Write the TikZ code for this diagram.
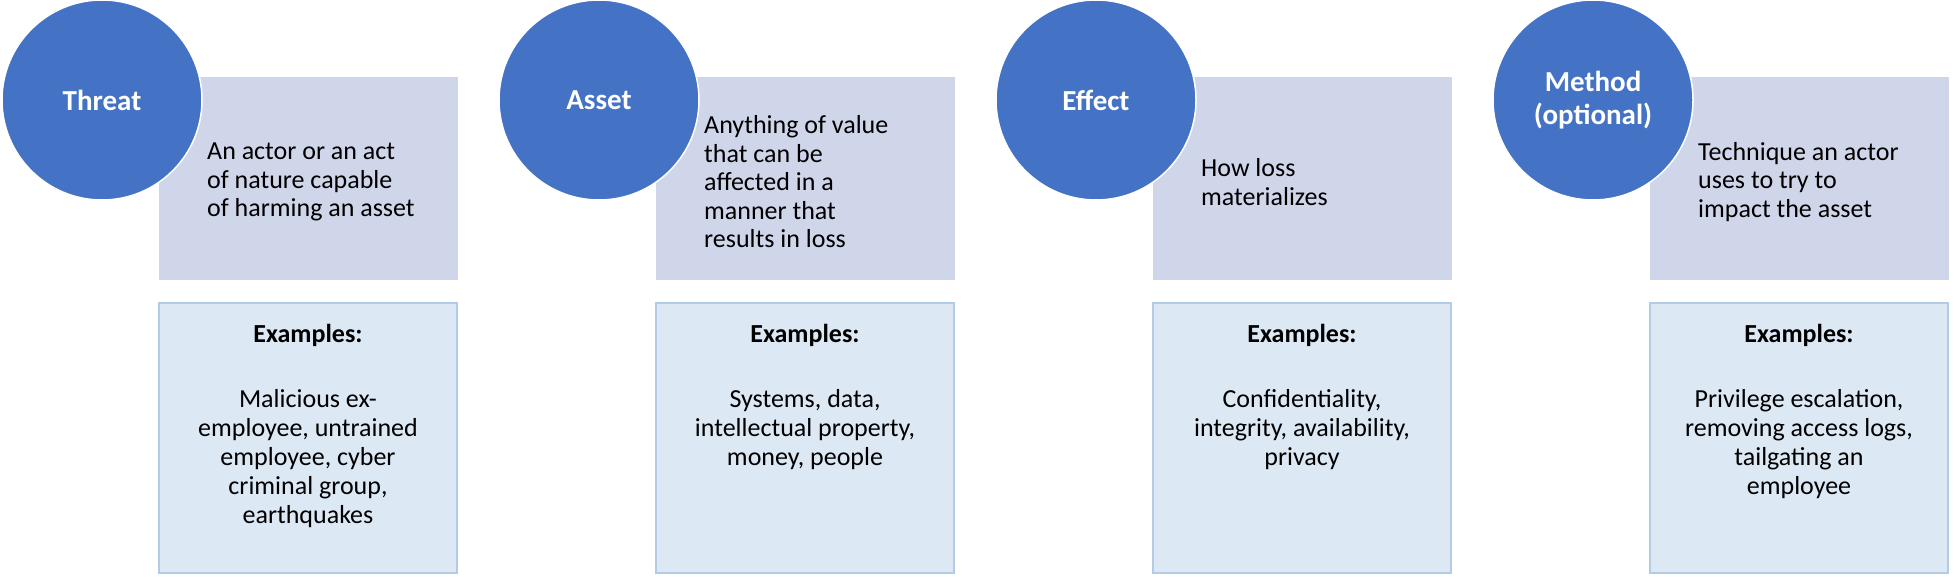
\documentclass[tikz,border=0pt]{standalone}
\usepackage{fontspec}
\setmainfont{Carlito}
\definecolor{cblue}{HTML}{4472C4}
\definecolor{cgray}{HTML}{D0D6EA}
\definecolor{cex}{HTML}{DDE8F5}
\definecolor{cexb}{HTML}{B4CBE8}
\begin{document}
\begin{tikzpicture}[x=1pt,y=-1pt,
  defbox/.style={fill=cgray,draw=none,minimum width=299pt,minimum height=203pt,inner sep=0pt},
  exbox/.style={fill=cex,draw=cexb,line width=1.5pt,minimum width=298pt,minimum height=270pt,inner sep=0pt},
  circ/.style={circle,fill=cblue,draw=white,line width=1.5pt,minimum size=200pt,inner sep=0pt,font=\fontsize{29}{33}\selectfont\bfseries,text=white,align=center},
  deftxt/.style={anchor=west,align=left,font=\fontsize{26}{28.5}\selectfont,inner sep=0pt},
  extxt/.style={anchor=north,align=center,font=\fontsize{26}{29}\selectfont,inner sep=0pt}]
\useasboundingbox (0,0) rectangle (1954,577);
\foreach \i/\nm/\ttl/\dtxt/\extxt in {
 0/t/Threat/{An actor or an act\\of nature capable\\of harming an asset}/{Malicious ex-\\employee, untrained\\employee, cyber\\criminal group,\\earthquakes},
 1/a/Asset/{Anything of value\\that can be\\affected in a\\manner that\\results in loss}/{Systems, data,\\intellectual property,\\money, people},
 2/e/Effect/{How loss\\materializes}/{Confidentiality,\\integrity, availability,\\privacy},
 3/m/{Method\\(optional)}/{Technique an actor\\uses to try to\\impact the asset}/{Privilege escalation,\\removing access logs,\\tailgating an\\employee}}{
  \pgfmathsetmacro{\dx}{497*\i}
  \node[defbox] (\nm d) at (\dx+308.5,178.5) {};
  \node[exbox] (\nm x) at (\dx+308,438) {};
  \node[circ] (\nm c) at (\dx+102,100) {\ttl};
  \node[deftxt] (\nm dt) at (\dx+207,182) {\dtxt};
  \node[extxt] (\nm xt) at (\dx+308,324) {\textbf{Examples:}\\[36pt]\extxt};
}
\end{tikzpicture}
\end{document}
